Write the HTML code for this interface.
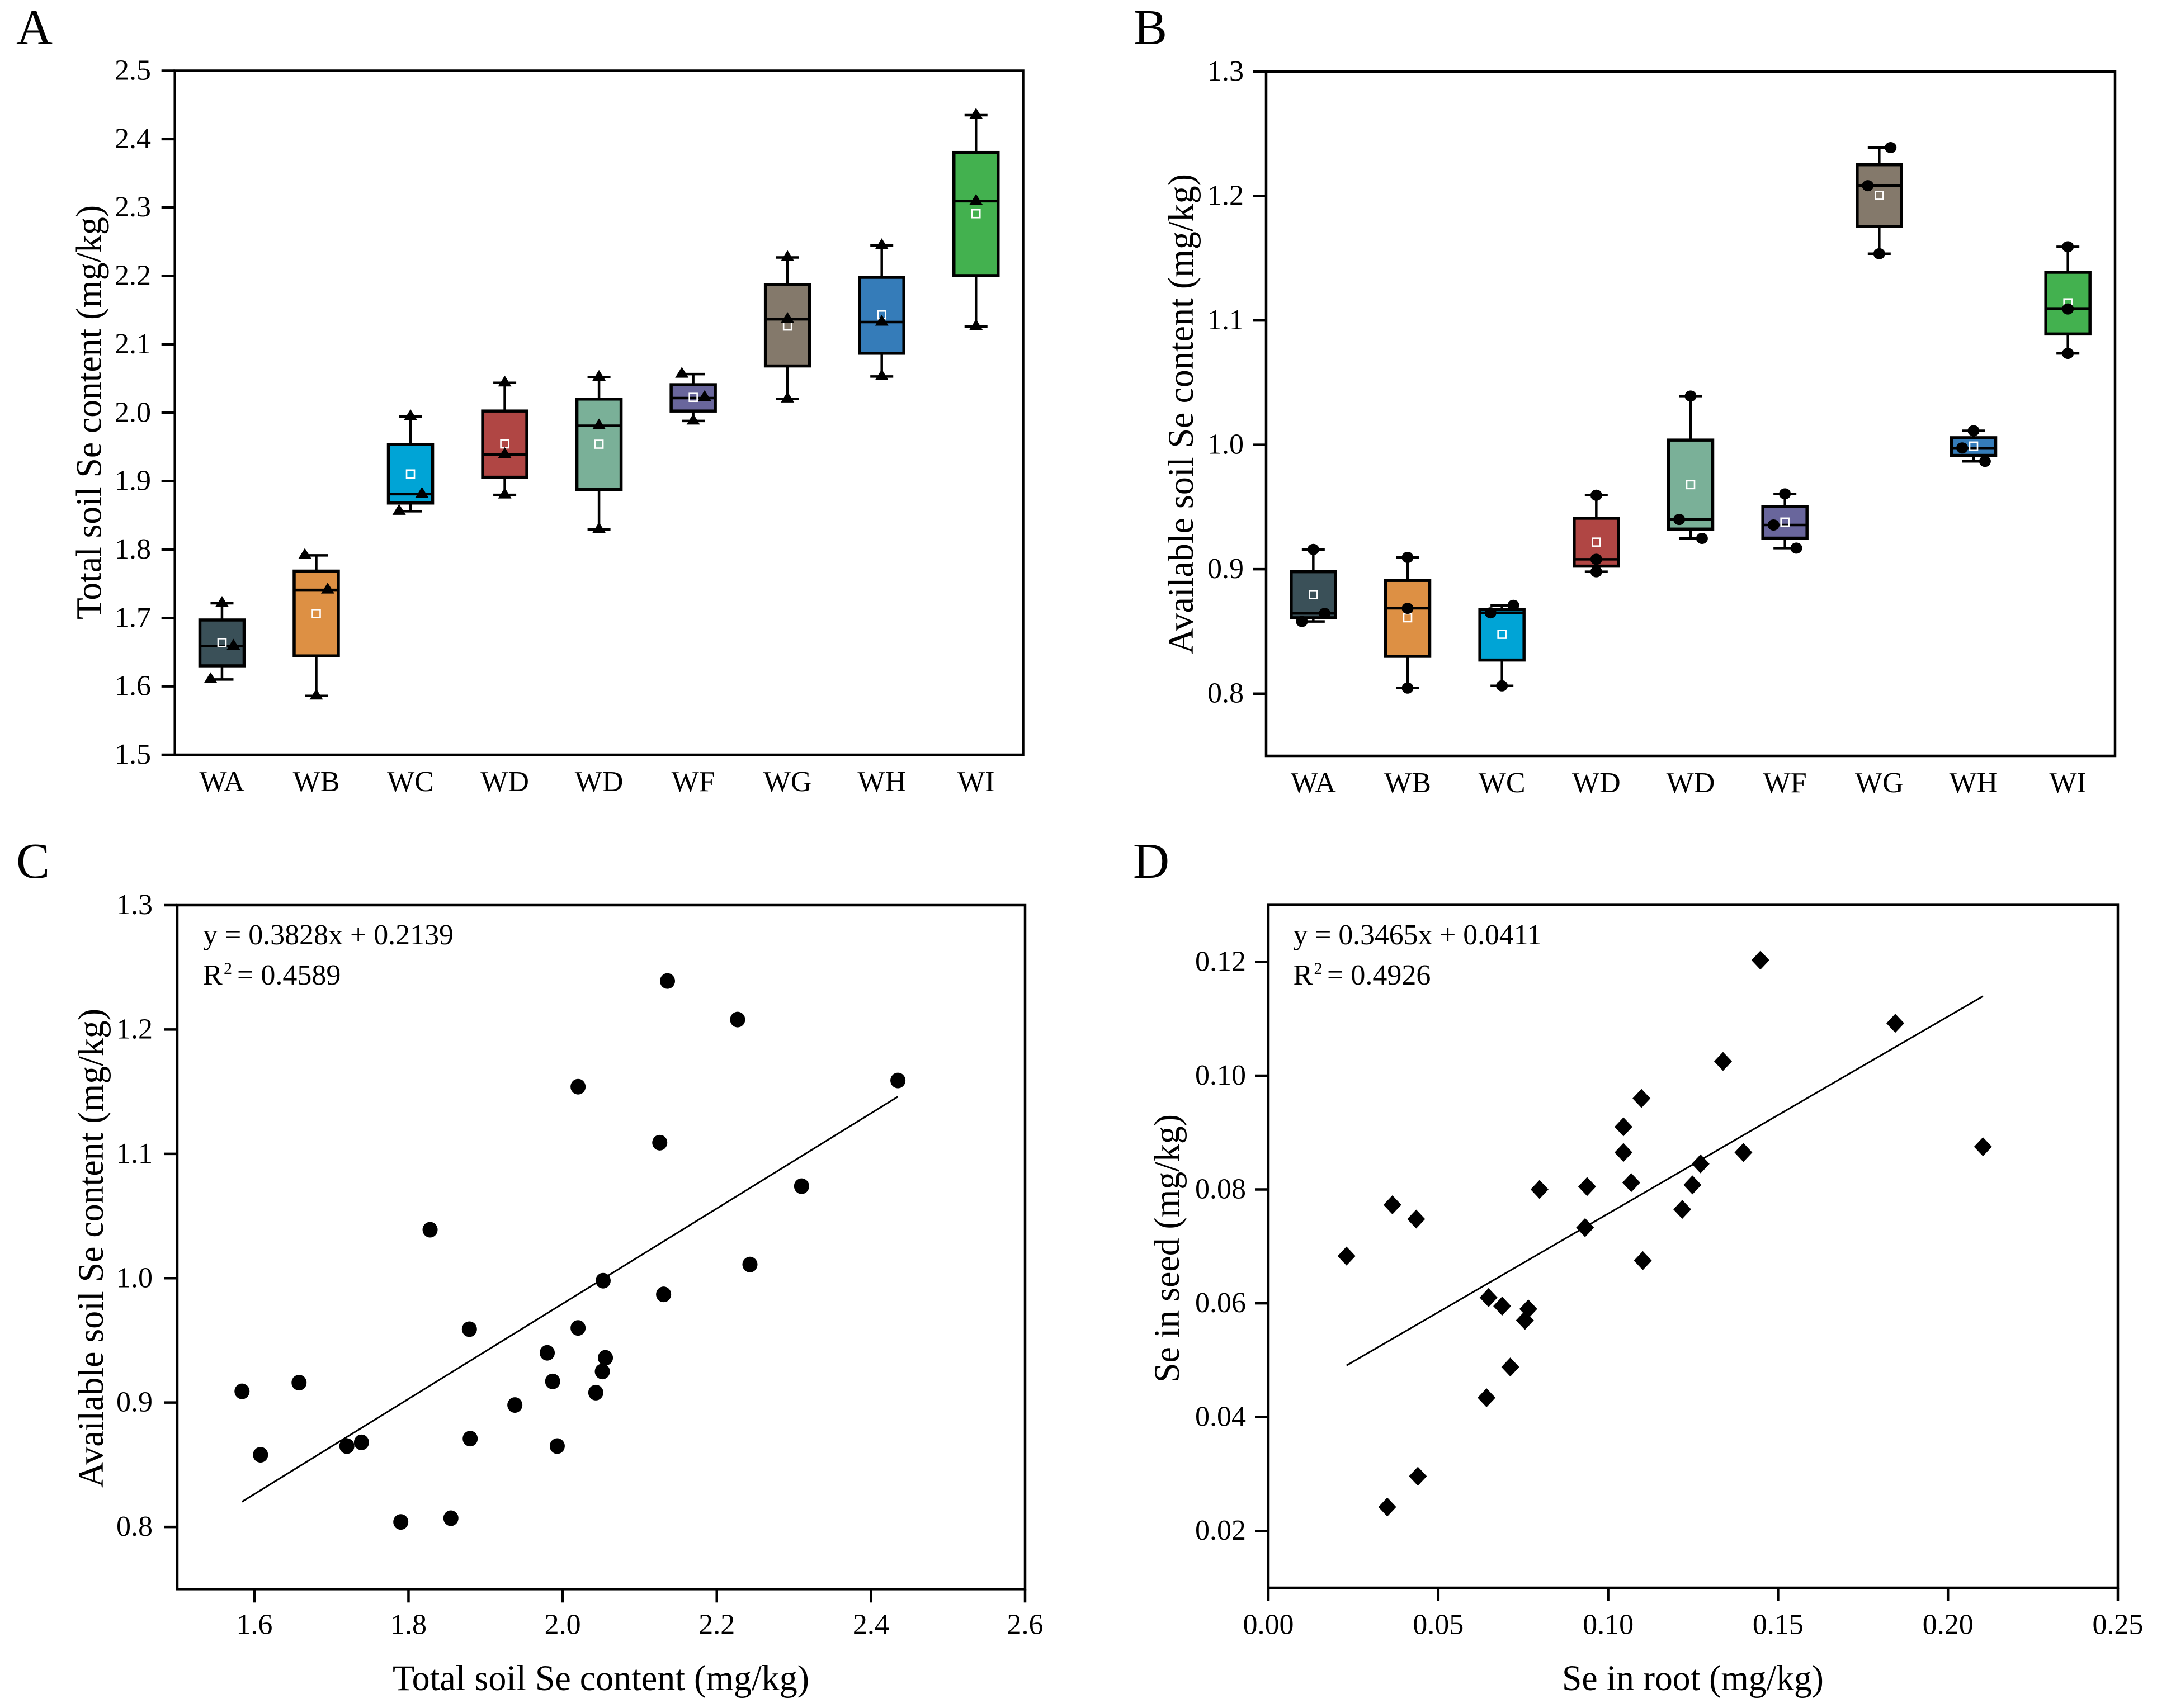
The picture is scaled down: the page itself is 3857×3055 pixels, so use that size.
<!DOCTYPE html>
<html lang="en">
<head>
<meta charset="utf-8">
<title>Selenium content in soil, root and seed</title>
<style>
html,body{margin:0;padding:0;background:#fff;}
svg{display:block;}
text{font-family:"Liberation Serif",serif;fill:#000;}
.panel-letter{font-size:90px;}
.title{font-size:65px;}
.eq{font-size:52px;}
</style>
</head>
<body>
<svg id="figure" xmlns="http://www.w3.org/2000/svg" width="3857" height="3055" viewBox="0 0 3857 3055">
<rect x="0" y="0" width="3857" height="3055" fill="#fff"/>

<text class="panel-letter" x="29" y="79">A</text>
<text class="panel-letter" x="2027" y="79">B</text>
<text class="panel-letter" x="29" y="1570">C</text>
<text class="panel-letter" x="2026" y="1570">D</text>

<text class="title" transform="translate(180.5,1108) rotate(-90)" textLength="741" lengthAdjust="spacingAndGlyphs">Total soil Se content (mg/kg)</text>
<text class="title" transform="translate(2133,1170) rotate(-90)" textLength="859" lengthAdjust="spacingAndGlyphs">Available soil Se content (mg/kg)</text>
<text class="title" transform="translate(184,2661) rotate(-90)" textLength="857" lengthAdjust="spacingAndGlyphs">Available soil Se content (mg/kg)</text>
<text class="title" x="702" y="3023" textLength="745" lengthAdjust="spacingAndGlyphs">Total soil Se content (mg/kg)</text>
<text class="title" transform="translate(2108,2473) rotate(-90)" textLength="480" lengthAdjust="spacingAndGlyphs">Se in seed (mg/kg)</text>
<text class="title" x="2793" y="3023" textLength="468" lengthAdjust="spacingAndGlyphs">Se in root (mg/kg)</text>

<text class="eq" x="363" y="1689" textLength="448" lengthAdjust="spacingAndGlyphs">y = 0.3828x + 0.2139</text>
<text class="eq" y="1761"><tspan x="363">R</tspan><tspan x="400" y="1742" font-size="30">2</tspan><tspan x="424" y="1761">= 0.4589</tspan></text>
<text class="eq" x="2312.5" y="1689" textLength="444" lengthAdjust="spacingAndGlyphs">y = 0.3465x + 0.0411</text>
<text class="eq" y="1761"><tspan x="2312.5">R</tspan><tspan x="2349.5" y="1742" font-size="30">2</tspan><tspan x="2373" y="1761">= 0.4926</tspan></text>

<g id="panel-a"></g>
<g id="panel-b"></g>
<g id="panel-c"></g>
<g id="panel-d"></g>
</svg>

<script>
/* Shared categories */
const categories = ['WA','WB','WC','WD','WD','WF','WG','WH','WI'];
const boxColors = ['#3a5058','#dd9044','#00a4d6','#b04644','#7ab098','#69669c','#84796b','#357cb9','#43b14f'];

/* Panel A values */
const aYTicks = [1.5,1.6,1.7,1.8,1.9,2.0,2.1,2.2,2.3,2.4,2.5];
const aWhiskerLow  = [1.610,1.586,1.856,1.880,1.8295,1.988,2.0203,2.053,2.1263];
const aQ1          = [1.630,1.6445,1.868,1.9057,1.888,2.0025,2.0684,2.087,2.2005];
const aMedian      = [1.659,1.741,1.881,1.939,1.981,2.0215,2.1366,2.1326,2.3093];
const aMean        = [1.664,1.7065,1.9105,1.9544,1.954,2.0225,2.1268,2.143,2.291];
const aQ3          = [1.697,1.7685,1.9535,2.0025,2.020,2.041,2.1875,2.198,2.3805];
const aWhiskerHigh = [1.7215,1.7915,1.9945,2.0437,2.052,2.0565,2.227,2.2445,2.435];
const aPoints = [[1.7215,1.61,1.659],[1.7915,1.741,1.586],[1.9945,1.881,1.856],[2.0437,1.939,1.88],[2.052,1.981,1.8295],[2.0565,2.0225,1.988],[2.227,2.1366,2.0203],[2.2445,2.1326,2.053],[2.435,2.3093,2.1263]];
const aJitter = [[0,-1,1],[-1,1,0],[0,1,-1],[0,0,0],[0,0,0],[-1,1,0],[0,0,0],[0,0,0],[0,0,0]];

/* Panel B values */
const bYTicks = [0.8,0.9,1.0,1.1,1.2,1.3];
const bWhiskerLow  = [0.858,0.8045,0.8063,0.898,0.9248,0.917,1.1536,0.9867,1.0735];
const bQ1          = [0.861,0.83,0.827,0.9025,0.9323,0.925,1.1756,0.9915,1.0891];
const bMedian      = [0.8645,0.8686,0.865,0.908,0.94,0.9356,1.2083,0.9975,1.1092];
const bMean        = [0.8797,0.861,0.8477,0.9218,0.968,0.9379,1.2005,0.999,1.1141];
const bQ3          = [0.898,0.891,0.8675,0.941,1.0038,0.9505,1.2251,1.0057,1.1387];
const bWhiskerHigh = [0.9159,0.9095,0.871,0.9595,1.0392,0.9606,1.2389,1.0113,1.1592];
const bPoints = [[0.9159,0.8645,0.858],[0.9095,0.8686,0.8045],[0.871,0.865,0.8063],[0.9595,0.908,0.898],[1.0392,0.94,0.9248],[0.9606,0.9356,0.917],[1.2389,1.2083,1.1536],[1.0113,0.9975,0.9867],[1.1592,1.1092,1.0735]];
const bJitter = [[0,1,-1],[0,0,0],[1,-1,0],[0,0,0],[0,-1,1],[0,-1,1],[1,-1,0],[0,-1,1],[0,0,0]];

/* Panel C values */
const cXTicks = [1.6,1.8,2.0,2.2,2.4,2.6];
const cYTicks = [0.8,0.9,1.0,1.1,1.2,1.3];
const cPointsX = [1.584,1.608,1.658,1.72,1.739,1.79,1.828,1.855,1.879,1.88,1.938,1.98,1.987,1.993,2.02,2.02,2.043,2.0515,2.0525,2.0555,2.126,2.131,2.136,2.227,2.243,2.31,2.435];
const cPointsY = [0.909,0.858,0.916,0.865,0.868,0.804,1.039,0.807,0.959,0.871,0.898,0.94,0.917,0.865,0.96,1.154,0.908,0.925,0.998,0.936,1.109,0.987,1.239,1.208,1.011,1.074,1.159];
const cFit = [0.3828,0.2139];

/* Panel D values */
const dXTicks = ['0.00','0.05','0.10','0.15','0.20','0.25'];
const dYTicks = ['0.02','0.04','0.06','0.08','0.10','0.12'];
const dPointsX = [0.023,0.035,0.0365,0.0435,0.044,0.0642,0.0648,0.0688,0.0712,0.0755,0.0765,0.0798,0.0932,0.0938,0.1045,0.1045,0.1068,0.1098,0.1102,0.1218,0.1248,0.1272,0.1338,0.1398,0.1448,0.1845,0.2103];
const dPointsY = [0.0683,0.0242,0.0773,0.0748,0.0296,0.0434,0.061,0.0595,0.0488,0.057,0.059,0.08,0.0733,0.0805,0.091,0.0865,0.0812,0.096,0.0675,0.0765,0.0808,0.0845,0.1025,0.0865,0.1203,0.1092,0.0875];
const dFit = [0.3465,0.0411];

const NS = 'http://www.w3.org/2000/svg';
function make(tag, attrs, parent) {
  const node = document.createElementNS(NS, tag);
  for (const k in attrs) node.setAttribute(k, attrs[k]);
  parent.appendChild(node);
  return node;
}
function linear(d0, d1, r0, r1) {
  return v => r0 + (v - d0) * (r1 - r0) / (d1 - d0);
}
function band(count, r0, r1) {
  return i => r0 + (i + 0.5) * (r1 - r0) / count;
}
const AXIS_W = 4.5, TICK_LEN = 24, LABEL_SIZE = 52;

function drawFrame(g, left, top, right, bottom) {
  const el = make('rect', {x:left, y:top, width:right-left, height:bottom-top, fill:'none', stroke:'#000', 'stroke-width':AXIS_W}, g);
  
  
}
function drawYTicks(g, ticks, y, left, labelX) {
  ticks.forEach(t => {
    const v = +t;
    const tick = make('line', {x1:left-TICK_LEN, x2:left, y1:y(v), y2:y(v), stroke:'#000', 'stroke-width':AXIS_W}, g);
    
    
    const label = make('text', {x:labelX, y:y(v)+16, 'text-anchor':'end', 'font-size':LABEL_SIZE}, g);
    label.textContent = typeof t === 'string' ? t : t.toFixed(1);
    
    
  });
}
function drawXTicks(g, ticks, x, bottom, labelY) {
  ticks.forEach(t => {
    const v = +t;
    const tick = make('line', {x1:x(v), x2:x(v), y1:bottom, y2:bottom+TICK_LEN, stroke:'#000', 'stroke-width':AXIS_W}, g);
    
    
    const label = make('text', {x:x(v), y:labelY, 'text-anchor':'middle', 'font-size':LABEL_SIZE}, g);
    label.textContent = typeof t === 'string' ? t : t.toFixed(1);
    
    
  });
}
function drawTriangle(g, cx, cy) {
  const el = make('polygon', {points:[cx,cy-13, cx+12,cy+6.5, cx-12,cy+6.5].join(' '), fill:'#000'}, g);
  
  
}
function drawCircle(g, cx, cy) {
  const el = make('ellipse', {cx:cx, cy:cy, rx:10.5, ry:10, fill:'#000'}, g);
  
  
}
function drawBoxes(g, x, y, low, q1, med, mean, q3, high, points, jitter, marker, labelY) {
  const BOX_W = 79, CAP_W = 41, JIT = 20.4;
  categories.forEach((name, i) => {
    const cx = x(i);
    const whisker = make('line', {x1:cx, x2:cx, y1:y(low[i]), y2:y(high[i]), stroke:'#000', 'stroke-width':4.5}, g);
    
    
    const capLow = make('line', {x1:cx-CAP_W/2, x2:cx+CAP_W/2, y1:y(low[i]), y2:y(low[i]), stroke:'#000', 'stroke-width':4.5}, g);
    
    
    const capHigh = make('line', {x1:cx-CAP_W/2, x2:cx+CAP_W/2, y1:y(high[i]), y2:y(high[i]), stroke:'#000', 'stroke-width':4.5}, g);
    
    
    const box = make('rect', {x:cx-BOX_W/2, y:y(q3[i]), width:BOX_W, height:y(q1[i])-y(q3[i]), fill:boxColors[i], stroke:'#000', 'stroke-width':5.5}, g);
    
    
    const median = make('line', {x1:cx-BOX_W/2, x2:cx+BOX_W/2, y1:y(med[i]), y2:y(med[i]), stroke:'#000', 'stroke-width':4.5}, g);
    
    
    const meanMark = make('rect', {x:cx-7, y:y(mean[i])-7, width:14, height:14, fill:'none', stroke:'#fff', 'stroke-width':2.6}, g);
    
    
    points[i].forEach((v, j) => marker(g, cx + jitter[i][j]*JIT, y(v)));
    const label = make('text', {x:cx, y:labelY, 'text-anchor':'middle', 'font-size':LABEL_SIZE}, g);
    label.textContent = name;
    
    
  });
}
function drawFit(g, x, y, fit, xs) {
  const x0 = Math.min(...xs), x1 = Math.max(...xs);
  const el = make('line', {x1:x(x0), y1:y(fit[0]*x0+fit[1]), x2:x(x1), y2:y(fit[0]*x1+fit[1]), stroke:'#000', 'stroke-width':3}, g);
  
  
}

/* Panel A */
(function () {
  const g = document.getElementById('panel-a');
  const L = 312.7, R = 1829.5, T = 126.5, B = 1350;
  const x = band(categories.length, L, R);
  const y = linear(1.5, 2.5, B, T);
  drawBoxes(g, x, y, aWhiskerLow, aQ1, aMedian, aMean, aQ3, aWhiskerHigh, aPoints, aJitter, drawTriangle, 1415);
  drawYTicks(g, aYTicks, y, L, 270);
  drawFrame(g, L, T, R, B);
})();

/* Panel B */
(function () {
  const g = document.getElementById('panel-b');
  const L = 2264, R = 3782, T = 128, B = 1352;
  const x = band(categories.length, L, R);
  const y = linear(0.75, 1.3, B, T);
  drawBoxes(g, x, y, bWhiskerLow, bQ1, bMedian, bMean, bQ3, bWhiskerHigh, bPoints, bJitter, drawCircle, 1417);
  drawYTicks(g, bYTicks, y, L, 2224);
  drawFrame(g, L, T, R, B);
})();

/* Panel C */
(function () {
  const g = document.getElementById('panel-c');
  const L = 317, R = 1833, T = 1619, B = 2842.3;
  const x = linear(1.5, 2.6, L, R);
  const y = linear(0.75, 1.3, B, T);
  drawFit(g, x, y, cFit, cPointsX);
  cPointsX.forEach((v, i) => {
    const dot = make('ellipse', {cx:x(v), cy:y(cPointsY[i]), rx:13.5, ry:14, fill:'#000'}, g);
    
    
  });
  drawYTicks(g, cYTicks, y, L, 273);
  drawXTicks(g, cXTicks, x, B, 2922.5);
  drawFrame(g, L, T, R, B);
})();

/* Panel D */
(function () {
  const g = document.getElementById('panel-d');
  const L = 2268, R = 3787, T = 1618.6, B = 2840;
  const x = linear(0, 0.25, L, R);
  const y = linear(0.01, 0.13, B, T);
  drawFit(g, x, y, dFit, dPointsX);
  dPointsX.forEach((v, i) => {
    const cx = x(v), cy = y(dPointsY[i]);
    const mark = make('polygon', {points:[cx,cy-17, cx+16,cy, cx,cy+17, cx-16,cy].join(' '), fill:'#000'}, g);
    
    
  });
  drawYTicks(g, dYTicks, y, L, 2228);
  drawXTicks(g, dXTicks, x, B, 2922.5);
  drawFrame(g, L, T, R, B);
})();
</script>
</body>
</html>
